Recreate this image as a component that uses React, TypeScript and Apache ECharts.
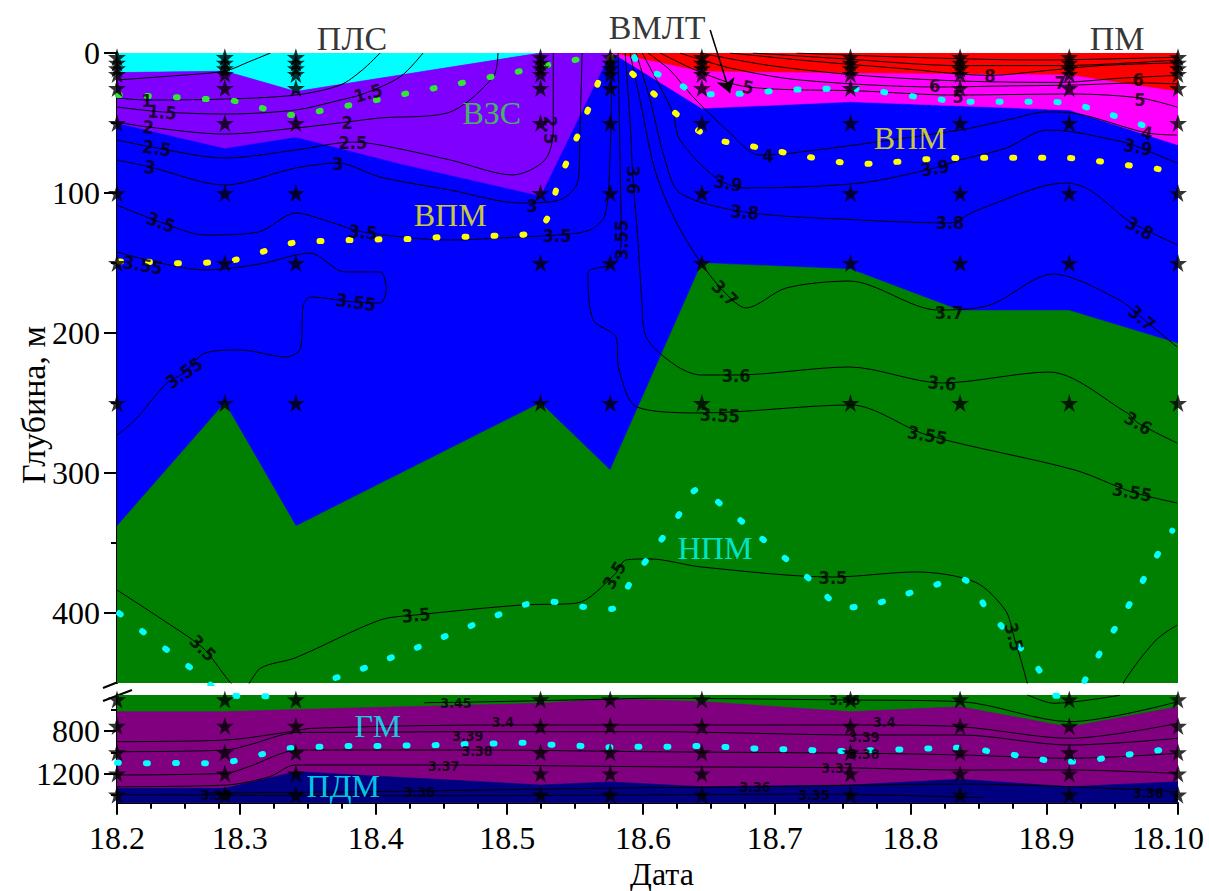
import { useEffect, useRef } from "react";
import * as echarts from "echarts";

// x: days since 1 Feb 2018, y: depth in metres
const monthStarts = [0, 28, 59, 89, 120, 150, 181, 212, 242];
const monthLabels = ["18.2", "18.3", "18.4", "18.5", "18.6", "18.7", "18.8", "18.9", "18.10"];
const minorOffsets = [7.75, 15.5, 23.25];
const upperTicks = [0, 100, 200, 300, 400];
const upperMinor = [50, 150, 250, 350];
const lowerTicks = [800, 1200];
const lowerMinor = [600, 1000, 1400];

const stations = [0, 24.6, 40.8, 96.6, 112.5, 133.4, 167.3, 192.3, 217.2, 242];
const sampleDepthsUpper = [3, 7, 11, 15, 25, 50, 100, 150, 250];
const sampleDepthsLower = [500, 750, 1000, 1200, 1400];

// water masses (upper panel)
const massBlue = [[0, 0], [242, 0], [242, 450], [0, 450]];
const massCyan = [[0, 0], [0, 14], [24.6, 13], [40.8, 27.5], [96.6, 0]];
const massViolet = [[0, 14], [24.6, 13], [40.8, 27.5], [96.6, 0], [112.5, 0], [96.6, 102], [64.5, 79], [40.8, 60], [24.6, 68], [0, 50]];
const massRed = [[113, 0], [242, 0], [242, 27.6], [217.2, 15.7], [167.3, 14.5], [133.4, 13.3]];
const massMagenta = [[113, 0], [133.4, 13.3], [167.3, 14.5], [217.2, 15.7], [242, 27.6], [242, 65.7], [217.2, 40.7], [167.3, 34.8], [133.4, 39.5]];
const massGreenUpper = [[0, 338], [24.6, 250], [40.8, 338], [96.6, 250], [112.5, 298], [133.4, 150], [167.3, 154.5], [192.3, 184], [217.2, 184], [242, 207.5], [242, 450], [0, 450]];
// water masses (lower panel)
const massGreenLower = [[0, 458], [242, 458], [242, 1476], [0, 1476]];
const massPurpleLower = [[0, 616], [24.6, 616], [40.8, 595], [96.6, 536], [112.5, 495], [133.4, 520], [167.3, 616], [192.3, 568], [217.2, 760], [242, 568], [242, 1476], [0, 1476]];
const massNavyLower = [[0, 1340], [24.6, 1340], [40.8, 1183], [96.6, 1309], [112.5, 1280], [133.4, 1325], [167.3, 1309], [192.3, 1255], [217.2, 1325], [242, 1278], [242, 1476], [0, 1476]];

// isolines, upper panel
const iso05 = [[0, 19.3], [12, 16.5], [24.6, 12.9], [30, 6.4], [35, 0]];
const iso1 = [[0, 32.1], [6.8, 33.6], [24.6, 32.9], [40.8, 30], [50.9, 22.9], [56, 12], [60, 0]];
const iso15 = [[0, 38.6], [10.3, 42.1], [24.6, 43.6], [40.8, 40.7], [50.9, 33.6], [56.1, 29.3], [64.6, 17], [69.8, 0]];
const iso2 = [[0, 49.3], [7.1, 52.9], [24.6, 57.9], [40.8, 53.6], [52.5, 49.3], [60, 46.4], [75.3, 42.9], [85.8, 17.1], [86.9, 0]];
const iso25 = [[0, 62.1], [9.1, 67.9], [24.6, 75], [40.8, 69.3], [53.8, 63.6], [60, 65.7], [76, 76.4], [90.3, 87.1], [97.6, 76.4], [99.5, 55], [99.5, 0]];
const iso3 = [[0, 76.4], [7.5, 81.4], [24.6, 94.3], [40.8, 82.1], [50.4, 78.6], [60, 88.6], [76, 97.9], [91.9, 107.1], [101, 105], [105.2, 90.7], [105.6, 55], [106.1, 0]];
const iso35a = [[0, 108.6], [9.8, 120.7], [20.1, 130], [32.2, 127.9], [40.8, 114.3], [48.6, 120.7], [56.1, 127.9], [76, 133.6], [91.9, 131.4], [100.4, 130], [107.9, 126.4], [111.3, 115.7], [112.5, 69.3], [112.9, 0]];
const iso355a = [[0, 142.1], [9.8, 150], [20.1, 155], [32.6, 150.7], [40.8, 144.3], [44, 142.9], [52, 156.4], [60, 156.4], [61.4, 169.3], [60, 178.6], [54.5, 177.9], [44, 174.3], [42.4, 181.4], [42.2, 197.9], [41.7, 212.1], [38.5, 217.1], [28.1, 212.1], [20.1, 214.3], [15.3, 228.6], [11.4, 235.7], [4.1, 262.1], [0, 272.9]];
const iso355b = [[114.3, 0], [114.7, 69.3], [115, 133.6], [113.6, 150], [107.4, 157.1], [108.6, 190.7], [113.8, 202.9], [114.5, 226.4], [118.6, 252.9], [133.2, 257.1], [167.4, 251.4], [184.8, 272.9], [218.5, 297.9], [231.5, 313.6], [241.8, 321.4]];
const iso36 = [[115.9, 0], [117, 47.9], [117.7, 90.7], [118.8, 133.6], [119.7, 176.4], [120.7, 202.9], [127.3, 222.9], [133.2, 230], [141.2, 230], [167, 224.3], [188.2, 235.7], [212.6, 227.9], [230.4, 257.1], [232.9, 264.3], [241.8, 278.6]];
const iso37 = [[117, 0], [119.3, 33.6], [122.7, 83.6], [127.3, 119.3], [133.2, 150], [138.7, 171.4], [143.5, 182.1], [152.6, 167.9], [167, 162.9], [187.3, 183.6], [199.1, 180], [213.5, 157.9], [228.6, 176.4], [233.8, 189.3], [241.8, 210]];
const iso38 = [[118.4, 0], [121.6, 33.6], [125, 76.4], [128.4, 100], [143.2, 113.6], [169.5, 119.3], [190, 121.4], [195.3, 113.6], [210.5, 95.7], [216.7, 92.9], [221.9, 97.9], [230.4, 119.3], [233.3, 124.3], [241.8, 137.1]];
const iso39 = [[119.8, 0], [123.9, 24.3], [126.8, 42.9], [128.4, 62.1], [136.4, 88.6], [142.8, 96.4], [169.5, 92.9], [186.6, 82.1], [192.3, 76.4], [202.8, 67.9], [212.1, 55], [218.1, 56.4], [230.4, 64.3], [232.9, 67.1], [241.8, 78.6]];
const iso4 = [[121.1, 0], [126.1, 12.1], [131.4, 31.4], [139.1, 55], [146.7, 72.9], [154.2, 71.4], [192.3, 55], [203, 47.9], [212.1, 42.1], [218.1, 42.9], [234.9, 57.1], [241.8, 58.6]];
const iso5 = [[123.9, 0], [133, 13.6], [143.9, 24.3], [169.5, 27.1], [190.2, 30], [218.1, 29.3], [233.3, 32.1], [241.8, 38.6]];
const iso6 = [[128.4, 0], [139.8, 10.7], [155.8, 19.3], [187.7, 24.3], [201.4, 23.6], [218.1, 22.9], [233.3, 21.4], [241.8, 22.1]];
const iso7 = [[133, 0], [149, 9], [169.5, 16], [192.3, 20], [215.1, 21], [228.8, 18], [241.8, 16]];
const iso8 = [[139.8, 0], [158.1, 5.7], [178.6, 11], [199.1, 16], [210.5, 13], [224.2, 9], [241.8, 7]];
const iso9 = [[145, 0], [165, 4], [192.3, 9], [215, 9], [241.8, 5]];
const iso10 = [[155, 0], [180, 3], [210, 5], [241.8, 3]];
// 3.5 isoline near the break (upper part and its dip below the break)
const iso35b = [[0, 383.6], [9.8, 403.6], [19.6, 425], [28.5, 455], [32.8, 439.3], [40.6, 432.1], [60, 405], [68.2, 401.4], [92.2, 394.3], [104.9, 392.9], [113.4, 372.9], [116.1, 362.1], [121.6, 361.4], [133.2, 367.1], [163.3, 374.3], [182.3, 370.7], [195.7, 377.9], [202.6, 397.9], [204.6, 417.1], [207.6, 450], [213.7, 536], [228.8, 458], [229.9, 447.9], [237, 419.3], [241.8, 408.6]];
const iso35bDeep = [[207.6, 455], [213.7, 536], [228.8, 460]];
// isolines, lower panel
const iso345 = [[70, 531], [82.1, 524], [110.2, 499], [121.6, 489], [166, 505], [192.5, 521], [217.4, 710], [242, 521]];
const iso34 = [[0, 899], [24.9, 883], [39.5, 805], [44.3, 773], [84.9, 742], [121.6, 742], [170.4, 742], [192.5, 758], [217.4, 867], [242, 726]];
const iso339 = [[0, 994], [24.9, 978], [30, 931], [41.4, 811], [49, 811], [82.1, 805], [121.6, 805], [170.4, 836], [192.5, 836], [217.4, 931], [242, 867]];
const iso338 = [[0, 1214], [24.9, 1198], [30, 1136], [41.4, 978], [82.1, 978], [121.6, 994], [170.4, 1009], [192.5, 1025], [217.4, 1056], [242, 1009]];
const iso337 = [[0, 1325], [24.9, 1309], [34.8, 1230], [40.6, 1120], [74.5, 1120], [121.6, 1136], [164.2, 1145], [192.5, 1167], [217.4, 1167], [242, 1200]];
const iso336 = [[20, 1385], [57.5, 1372], [110, 1340], [145.5, 1325], [192.5, 1300], [217.4, 1325], [242, 1372]];
const iso335 = [[0, 1400], [21, 1403], [40, 1410], [80, 1410], [159, 1395], [197.9, 1428]];

// isoline labels: [day, depth, text, rotation]
const isoLabelsUpper = [
  [6.8, 33.6, "1", 0], [10.3, 42.1, "1.5", -5], [7.1, 52.9, "2", -5], [9.1, 67.9, "2.5", -8], [7.5, 81.4, "3", -10],
  [57.3, 28.6, "1.5", 15], [52.5, 49.3, "2", 0], [53.8, 63.6, "2.5", 0], [50.4, 78.6, "3", 0],
  [98.8, 55, "2.5", -90], [94.7, 108.6, "3", 0],
  [10, 120.7, "3.5", -20], [56.1, 127.9, "3.5", -5], [100.4, 130, "3.5", 0],
  [5.9, 151.4, "3.55", -10], [54.5, 177.9, "3.55", -8], [15.3, 228.6, "3.55", 35],
  [115, 133.6, "3.55", 90], [117.7, 90.7, "3.6", -90],
  [139.4, 92.9, "3.9", -10], [143.2, 113.6, "3.8", -5], [148.5, 72.9, "4", 0], [143.9, 24.3, "5", -10],
  [186.6, 82.1, "3.9", 10], [190, 121.4, "3.8", 0], [186.5, 23, "6", 0], [191.8, 31, "5", 0],
  [199.1, 16, "8", 0], [215.1, 21, "7", 0], [232.9, 19, "6", 0], [233.3, 33.5, "5", 0],
  [234.9, 57.1, "4", -10], [232.9, 67.1, "3.9", -10], [233.3, 125, "3.8", -30],
  [138.7, 171.4, "3.7", -45], [189.8, 185.7, "3.7", 0], [233.8, 189.3, "3.7", -40],
  [141.2, 230, "3.6", 0], [188.2, 235.7, "3.6", -5], [232.9, 264.3, "3.6", -30],
  [137.5, 258.6, "3.55", -3], [184.8, 272.9, "3.55", -10], [231.5, 313.6, "3.55", -10],
  [19.6, 425, "3.5", -45], [68.2, 401.4, "3.5", 5], [113.4, 372.9, "3.5", 60], [163.3, 374.3, "3.5", 0], [204.6, 417.1, "3.5", -75],
];
const isoLabelsLower = [
  [77.3, 534, "3.45", 0], [166, 505, "3.46", 0],
  [88, 712, "3.4", 0], [80, 842, "3.39", 0], [82.1, 990, "3.38", 0], [74.5, 1129, "3.37", 0],
  [69, 1372, "3.36", 0], [22.6, 1403, "3.35", 0],
  [175, 712, "3.4", 0], [170.4, 852, "3.39", 0], [170.4, 1015, "3.38", 0], [164.2, 1148, "3.37", 0],
  [145.5, 1328, "3.36", 0], [159, 1405, "3.35", 0], [235.2, 1384, "3.36", 0],
];

// water-mass boundaries (dotted)
const bndGreen = [[0.2, 30], [13.6, 31.6], [20.3, 32.9], [26.9, 34.3], [33.3, 39.5], [40, 44.3], [46.7, 41.2], [53.5, 37.1], [60.2, 32.9], [66.9, 28.4], [73.3, 24.6], [80.1, 20.5], [86.6, 16.2], [93.3, 12.1], [100, 7.4], [106.7, 3.8]];
const bndYellow = [[0.5, 149], [6.5, 149.1], [13.3, 150.2], [20, 149.8], [26.7, 147.9], [33.3, 141.9], [40.1, 135.6], [46.7, 134.3], [53.3, 133.6], [60, 133.1], [66.5, 132.9], [73.3, 131.6], [80, 131.2], [86.5, 130.5], [93.3, 129.5], [97.7, 120.5], [100.3, 96.6], [102.9, 75.2], [105.6, 55], [108.3, 33.6], [110.9, 12.1], [112.9, 3], [115.4, 8.6], [121.9, 27.6], [128.8, 46.6], [135.6, 60.9], [142.1, 65], [148.5, 68.8], [155.3, 72.9], [161.9, 76.4], [168.7, 79.3], [175.6, 78.4], [182, 76.4], [188.9, 75.2], [195.8, 74.8], [201.8, 74.8], [208.6, 74.8], [215.1, 74.8], [221.9, 76.4], [228.3, 79.3], [235.2, 81.9], [241.7, 84.8]];
const bndCyanTop = [[118, 3], [119.5, 9.8], [126.8, 19.5], [133, 29.5], [139.4, 29.5], [145.9, 28.1], [152.7, 26.4], [159.2, 25.9], [165.6, 25.2], [172.4, 26.9], [179.2, 30], [185.8, 32.4], [192.6, 34.8], [199.1, 34.8], [205.9, 34.8], [212.3, 34.8], [218.9, 37.1], [225.7, 43.1], [232.6, 50.2], [239.1, 56.2]];
const bndCyanDeep = [[0.5, 400.2], [6.9, 415.7], [13.6, 431.6], [20.1, 447.4], [27, 468], [37, 470], [46.9, 449.8], [53.3, 443.1], [60.1, 434.8], [66.7, 426.9], [73.3, 418.6], [79.9, 410.2], [86.5, 401.9], [93.3, 393.8], [99.3, 392], [106.1, 395.5], [112.8, 397.1], [117.5, 376], [122.6, 354.5], [127.5, 333.1], [132.5, 311.6], [139.1, 325.9], [145.7, 343.1], [152.4, 360.9], [159.1, 378.8], [165.7, 396.2], [172.3, 393.8], [179, 387.6], [185.7, 380.7], [192.8, 375.9], [198.5, 397.4], [204, 417.6], [210.2, 440.2], [216, 470], [220.7, 448.4], [224.4, 427.4], [228.6, 406], [232.7, 384.1], [236.6, 362.1], [240.7, 341.2]];
const bndCyanDeepBelowA = [[27, 466], [32, 470], [37, 468]];
const bndCyanDeepBelowB = [[214, 465], [217, 470]];
const bndCyanGM = [[0, 1098], [6.4, 1104], [13.5, 1101], [20.1, 1104], [26.7, 1082], [33.3, 1016], [39.9, 959], [46.5, 947], [53.2, 940], [60.1, 940], [66.9, 934], [73.6, 931], [80.2, 921], [86.8, 915], [93.4, 909], [100, 931], [106.7, 940], [113.2, 952], [119.9, 947], [126.5, 947], [133, 940], [139.8, 952], [146.5, 965], [153.1, 971], [159.8, 981], [166.4, 987], [173, 978], [179.7, 971], [186.3, 962], [193, 956], [199.6, 994], [206.3, 1035], [212.9, 1079], [219.6, 1088], [226.2, 1047], [232.9, 1009], [239.5, 969]];

// texts
const massNamesUpper = [
  [85.5, 42.9, "ВЗС", "#33E633"], [76, 115.7, "ВПМ", "#FFFF00"], [180.9, 60.7, "ВПМ", "#FFFF00"], [136.4, 353.6, "НПМ", "#00FFFF"],
];
const massNamesLower = [[59.5, 751, "ГМ", "#00FFFF"], [51.6, 1318, "ПДМ", "#00FFFF"]];
const topNames = [[53.6, -10.7, "ПЛС"], [123.2, -17.9, "ВМЛТ"], [228.1, -10.7, "ПМ"]];
const arrowVMLT = [[135.3, -16.4], [139.8, 28.6]];

const SERIF = "Liberation Serif";
const CONDENSED = "DejaVu Sans Condensed, Liberation Sans";
const STAR = "path://M50,0 L61,35 L98,35 L68,57 L79,91 L50,70 L21,91 L32,57 L2,35 L39,35 Z";

function polygon(points: number[][], color: string, xi: number, yi: number, z: number) {
  return {
    type: "custom", xAxisIndex: xi, yAxisIndex: yi, z, silent: true, clip: true,
    data: [[points[0][0], points[0][1]]],
    renderItem: (_p: any, api: any) => ({
      type: "polygon",
      shape: { points: points.map((p) => api.coord(p)) },
      style: { fill: color, stroke: color, lineWidth: 0.6 },
    }),
  };
}
function isoline(data: number[][], xi: number, yi: number) {
  return { type: "line", xAxisIndex: xi, yAxisIndex: yi, data, smooth: 0.3, symbol: "none", silent: true, z: 3, clip: true,
    lineStyle: { color: "#000", width: 1 } };
}
function dotted(data: number[][], color: string, xi: number, yi: number) {
  return { type: "line", xAxisIndex: xi, yAxisIndex: yi, data, smooth: 0.3, symbol: "none", silent: true, z: 4, clip: true,
    lineStyle: { color, width: 6, type: [2, 27], cap: "round" } };
}
function labels(items: any[], xi: number, yi: number, size: number) {
  return { type: "scatter", xAxisIndex: xi, yAxisIndex: yi, silent: true, z: 6, clip: false, symbolSize: 1,
    itemStyle: { color: "rgba(0,0,0,0)" },
    data: items.map((l) => ({ value: [l[0], l[1]], name: l[2], label: { rotate: l[3] } })),
    label: { show: true, position: "inside", formatter: "{b}", color: "#000", fontFamily: CONDENSED, fontSize: size, fontWeight: "bold" } };
}
function names(items: any[], xi: number, yi: number, size: number) {
  return { type: "scatter", xAxisIndex: xi, yAxisIndex: yi, silent: true, z: 7, clip: false, symbolSize: 1,
    itemStyle: { color: "rgba(0,0,0,0)" },
    data: items.map((l) => ({ value: [l[0], l[1]], name: l[2], label: { color: l[3] || "#000" } })),
    label: { show: true, position: "inside", formatter: "{b}", fontFamily: SERIF, fontSize: size } };
}

export default function App() {
  const ref = useRef<HTMLDivElement>(null);
  useEffect(() => {
    const chart = echarts.init(ref.current!, null, { renderer: "svg" });
    const minorDays = monthStarts.slice(0, -1).flatMap((m) => minorOffsets.map((k) => m + k));
    const upperContours = [iso05, iso1, iso15, iso2, iso25, iso3, iso35a, iso355a, iso355b, iso36, iso37, iso38, iso39, iso4, iso5, iso6, iso7, iso8, iso9, iso10, iso35b];
    const lowerContours = [iso35bDeep, iso345, iso34, iso339, iso338, iso337, iso336, iso335];
    const axisFont = { fontFamily: SERIF, fontSize: 32, color: "#000" };
    const lastIdx = monthStarts.length - 1;
    const option: any = {
      animation: false,
      backgroundColor: "#fff",
      textStyle: { fontFamily: SERIF },
      grid: [
        { left: 117, top: 53, width: 1061, height: 630, outerBoundsMode: "none" },
        { left: 117, top: 695, width: 1061, height: 107.7, outerBoundsMode: "none" },
      ],
      xAxis: [
        { gridIndex: 0, type: "value", position: "top", min: 0, max: 242, axisLine: { show: true, lineStyle: { color: "#555", width: 1 } },
          axisTick: { show: false }, axisLabel: { show: false }, splitLine: { show: false } },
        { gridIndex: 1, type: "value", position: "bottom", min: 0, max: 242, axisLine: { show: true, lineStyle: { color: "#000", width: 2 } },
          axisTick: { show: true, customValues: monthStarts, length: 12, lineStyle: { color: "#000", width: 2 } },
          axisLabel: {
            customValues: monthStarts, margin: 19, ...axisFont,
            formatter: (v: number) => {
              const i = monthStarts.indexOf(v);
              return i === lastIdx ? `{last|${monthLabels[i]}}` : monthLabels[i];
            },
            rich: { last: { fontFamily: SERIF, fontSize: 32, color: "#000", padding: [0, 20, 0, 0] } },
          },
          splitLine: { show: false } },
        { gridIndex: 1, type: "value", position: "bottom", min: 0, max: 242, axisLine: { show: false },
          axisTick: { show: true, customValues: minorDays, length: 6, lineStyle: { color: "#000", width: 2 } },
          axisLabel: { show: false }, splitLine: { show: false } },
      ],
      yAxis: [
        { gridIndex: 0, type: "value", position: "left", inverse: true, min: 0, max: 450, axisLine: { show: true, lineStyle: { color: "#000", width: 2 } },
          axisTick: { show: true, customValues: upperTicks, length: 13, lineStyle: { color: "#000", width: 2 } },
          axisLabel: { customValues: upperTicks, margin: 17, ...axisFont, formatter: (v: number) => String(v) }, splitLine: { show: false } },
        { gridIndex: 0, type: "value", position: "left", inverse: true, min: 0, max: 450, axisLine: { show: false },
          axisTick: { show: true, customValues: upperMinor, length: 6, lineStyle: { color: "#000", width: 2 } },
          axisLabel: { show: false }, splitLine: { show: false } },
        { gridIndex: 1, type: "value", position: "left", inverse: true, min: 458, max: 1476, axisLine: { show: true, lineStyle: { color: "#000", width: 2 } },
          axisTick: { show: true, customValues: lowerTicks, length: 13, lineStyle: { color: "#000", width: 2 } },
          axisLabel: { customValues: lowerTicks, margin: 17, ...axisFont, formatter: (v: number) => String(v) }, splitLine: { show: false } },
        { gridIndex: 1, type: "value", position: "left", inverse: true, min: 458, max: 1476, axisLine: { show: false },
          axisTick: { show: true, customValues: lowerMinor, length: 6, lineStyle: { color: "#000", width: 2 } },
          axisLabel: { show: false }, splitLine: { show: false } },
      ],
      series: [
        polygon(massBlue, "#0000FF", 0, 0, 1),
        polygon(massGreenUpper, "#008000", 0, 0, 1),
        polygon(massCyan, "#00FFFF", 0, 0, 1),
        polygon(massViolet, "#8000FF", 0, 0, 1),
        polygon(massRed, "#FF0000", 0, 0, 1),
        polygon(massMagenta, "#FF00FF", 0, 0, 1),
        polygon(massGreenLower, "#008000", 1, 2, 1),
        polygon(massPurpleLower, "#800080", 1, 2, 1),
        polygon(massNavyLower, "#000080", 1, 2, 1),
        ...upperContours.map((c) => isoline(c, 0, 0)),
        ...lowerContours.map((c) => isoline(c, 1, 2)),
        dotted(bndGreen, "#33E633", 0, 0),
        dotted(bndYellow, "#FFFF00", 0, 0),
        dotted(bndCyanTop, "#00FFFF", 0, 0),
        dotted(bndCyanDeep, "#00FFFF", 0, 0),
        dotted(bndCyanDeepBelowA, "#00FFFF", 1, 2),
        dotted(bndCyanDeepBelowB, "#00FFFF", 1, 2),
        dotted(bndCyanGM, "#00FFFF", 1, 2),
        { type: "scatter", xAxisIndex: 0, yAxisIndex: 0, silent: true, z: 5, clip: false, symbol: STAR, symbolSize: 18,
          itemStyle: { color: "#000" }, data: stations.flatMap((s) => sampleDepthsUpper.map((d) => [s, d])) },
        { type: "scatter", xAxisIndex: 1, yAxisIndex: 2, silent: true, z: 5, clip: false, symbol: STAR, symbolSize: 18,
          itemStyle: { color: "#000" }, data: stations.flatMap((s) => sampleDepthsLower.map((d) => [s, d])) },
        labels(isoLabelsUpper, 0, 0, 18),
        labels(isoLabelsLower, 1, 2, 14),
        names(massNamesUpper, 0, 0, 32),
        names(massNamesLower, 1, 2, 32),
        names(topNames, 0, 0, 34),
        { type: "lines", coordinateSystem: "cartesian2d", xAxisIndex: 0, yAxisIndex: 0, silent: true, z: 8, clip: false,
          symbol: ["none", "arrow"], symbolSize: 14,
          lineStyle: { color: "#000", width: 1.5, opacity: 1 },
          data: [{ coords: arrowVMLT }] },
      ],
      graphic: [
        { type: "text", x: 33, y: 405, rotation: Math.PI / 2, style: { text: "Глубина, м", fontFamily: SERIF, fontSize: 34, fill: "#000", align: "center", verticalAlign: "middle" } },
        { type: "text", x: 662, y: 874, style: { text: "Дата", fontFamily: SERIF, fontSize: 32, fill: "#000", align: "center", verticalAlign: "middle" } },
        { type: "line", shape: { x1: 103, y1: 688, x2: 118, y2: 682 }, style: { stroke: "#000", lineWidth: 2 } },
        { type: "line", shape: { x1: 103, y1: 701, x2: 132, y2: 690 }, style: { stroke: "#000", lineWidth: 2 } },
      ],
    };
    chart.setOption(option);
    return () => chart.dispose();
  }, []);
  return <div ref={ref} style={{ position: "fixed", left: 0, top: 0, width: 1209, height: 891 }} />;
}
